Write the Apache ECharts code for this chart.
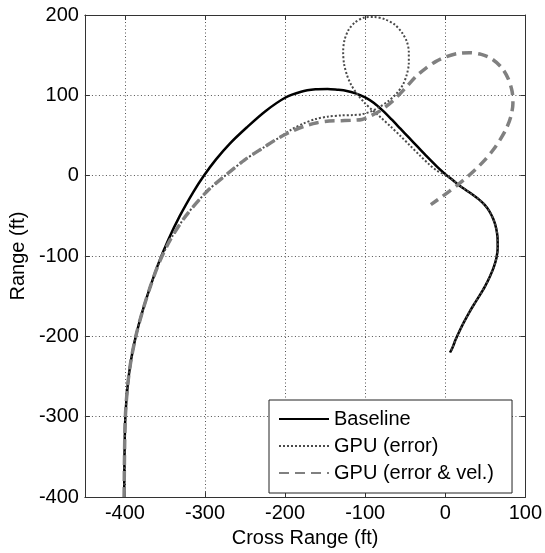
<!DOCTYPE html>
<html>
<head>
<meta charset="utf-8">
<script src="https://cdn.jsdelivr.net/npm/echarts@6/dist/echarts.min.js"></script>
<style>
  html, body { margin: 0; padding: 0; background: #fff; }
  #chart { width: 545px; height: 553px; }
</style>
</head>
<body>
<div id="chart"></div>
<script>
// Trajectories in the cross-range / range plane, in feet: [cross range, range]
const baseline = [
  [-401,-400],[-400.6,-350],[-399.5,-300],[-396.5,-260],[-392.5,-230],[-386.5,-200],
  [-378.5,-170],[-369,-140],[-358.5,-110],[-346,-80],[-331.5,-50],[-314.5,-20],
  [-301.5,0],[-286.5,20],[-269,40],[-248,60],[-225,80],[-200,97],[-180,104.5],
  [-162,107.5],[-147,108],[-135,107],[-123,105.5],[-112,102.5],[-100,97.5],[-89,90.5],
  [-78,81],[-67,70],[-56,58.5],[-45,47],[-34,35.5],[-23,24],[-11,12],[0,2],
  [10,-6],[18,-12.5],[26,-18],[34,-23.5],[42,-29.5],[49,-36],[55,-44],[60,-54],
  [63.5,-65],[65.3,-77],[65.5,-90],[64,-102],[60.5,-114],[55.5,-126],[49.5,-138],
  [43,-149],[36,-160],[29.5,-171],[23.5,-182],[18,-193],[13,-204],[9,-214],[6,-220]
];

const gpuError = [
  [-401,-400],[-400.6,-350],[-399.5,-300],[-396.5,-260],[-392.5,-230],[-386.5,-200],
  [-378.5,-170],[-369,-140],[-358,-110],[-343.5,-80],[-324,-50],[-298,-20],[-275,0],
  [-250,20],[-227,35],[-208,47],[-192,57.5],[-177,65],[-162,70.5],[-147,73.5],
  [-130,75],[-115,75.5],[-104,76.5],[-94,79.5],[-83,85],[-71,93],[-61,102],[-53,113],
  [-48,126],[-45.5,140],[-45.5,154],[-48,167],[-54,178],[-63,188],[-75,194.5],
  [-89,197.5],[-102,196.5],[-113,190.5],[-121,181],[-126,168],[-127.5,154],
  [-126.5,140],[-123,126],[-117.5,113],[-110,101.5],[-101,91],[-91,81.5],[-80,72],
  [-68,61],[-56,49.5],[-44,37.5],[-32,25.5],[-20,14],[-10,6],[0,1],
  [10,-6],[18,-12.5],[26,-18],[34,-23.5],[42,-29.5],[49,-36],[55,-44],[60,-54],
  [63.5,-65],[65.3,-77],[65.5,-90],[64,-102],[60.5,-114],[55.5,-126],[49.5,-138],
  [43,-149],[36,-160],[29.5,-171],[23.5,-182],[18,-193],[13,-204],[9,-214],[6,-220]
];

const gpuErrorVel = [
  [-401,-400],[-400.6,-350],[-399.5,-300],[-396.5,-260],[-392.5,-230],[-386.5,-200],
  [-378.5,-170],[-369,-140],[-358,-110],[-343.5,-80],[-324,-50],[-298,-20],[-275,0],
  [-250,20],[-227,35],[-208,47],[-190,56],[-175,62],[-160,66],[-145,68],[-130,68.5],
  [-115,69],[-104,70],[-95,73.5],[-81,81],[-65,93.5],[-48,111],[-36,124],[-24,134],
  [-12,142],[1,148],[15,152],[30,153],[45,151],[58,145.5],[70,135],[78.5,121],
  [83.5,105],[84.5,90],[82,74],[76,58],[68,44],[59,31],[49,19],[38,8],[27,-2],
  [16,-11],[5,-19.5],[-6,-27.5],[-18,-36]
];

const seriesNames = ['Baseline', 'GPU (error)', 'GPU (error & vel.)'];
const xTickLabels = [-400, -300, -200, -100, 0, 100];

const FONT = '"Liberation Sans", Arial, sans-serif';
const gridLine = { show: true, lineStyle: { type: [1, 2.5], color: '#555', width: 1 } };
const frameLine = { show: true, onZero: false, lineStyle: { color: '#333', width: 1 } };
const innerTick = { show: true, inside: true, length: 5, lineStyle: { color: '#333' } };

const chart = echarts.init(document.getElementById('chart'), null, { renderer: 'canvas' });

chart.setOption({
  animation: false,
  backgroundColor: '#fff',
  grid: { left: 80, top: 15, width: 447, height: 487, containLabel: false },
  xAxis: [
    {
      type: 'value', min: -450, max: 100, position: 'bottom',
      name: 'Cross Range (ft)', nameLocation: 'middle', nameGap: 22,
      nameTextStyle: { fontFamily: FONT, fontSize: 20, color: '#000' },
      axisLine: frameLine,
      axisTick: Object.assign({ customValues: xTickLabels }, innerTick),
      axisLabel: {
        customValues: xTickLabels, margin: 6,
        fontFamily: FONT, fontSize: 20, color: '#000'
      },
      splitLine: gridLine
    },
    {
      type: 'value', min: -450, max: 100, position: 'top',
      axisLine: frameLine,
      axisTick: Object.assign({ customValues: xTickLabels }, innerTick),
      axisLabel: { show: false }, splitLine: { show: false }
    }
  ],
  yAxis: [
    {
      type: 'value', min: -400, max: 200, interval: 100, position: 'left',
      name: 'Range (ft)', nameLocation: 'middle', nameGap: 54, nameRotate: 90,
      nameTextStyle: { fontFamily: FONT, fontSize: 20, color: '#000' },
      axisLine: frameLine, axisTick: innerTick,
      axisLabel: { margin: 6, fontFamily: FONT, fontSize: 20, color: '#000' },
      splitLine: gridLine
    },
    {
      type: 'value', min: -400, max: 200, interval: 100, position: 'right',
      axisLine: frameLine, axisTick: innerTick,
      axisLabel: { show: false }, splitLine: { show: false }
    }
  ],
  legend: {
    data: seriesNames,
    orient: 'vertical',
    left: 269, top: 400,
    padding: [9, 18, 10, 9],
    itemWidth: 50, itemHeight: 14, itemGap: 7,
    backgroundColor: '#fff',
    borderColor: '#222', borderWidth: 1,
    itemStyle: { opacity: 0 },
    textStyle: { fontFamily: FONT, fontSize: 20, color: '#000' }
  },
  series: [
    {
      name: seriesNames[0], type: 'line', data: baseline,
      showSymbol: false, symbol: 'none', smooth: 0.3,
      lineStyle: { color: '#000', width: 2.5 }, itemStyle: { color: '#000' }
    },
    {
      name: seriesNames[1], type: 'line', data: gpuError,
      showSymbol: false, symbol: 'none', smooth: 0.3,
      lineStyle: { color: '#4a4a4a', width: 2, type: [2, 2] }, itemStyle: { color: '#4a4a4a' }
    },
    {
      name: seriesNames[2], type: 'line', data: gpuErrorVel,
      showSymbol: false, symbol: 'none', smooth: 0.3,
      lineStyle: { color: '#808080', width: 3.5, type: [10, 6] }, itemStyle: { color: '#808080' }
    }
  ]
});
</script>
</body>
</html>
